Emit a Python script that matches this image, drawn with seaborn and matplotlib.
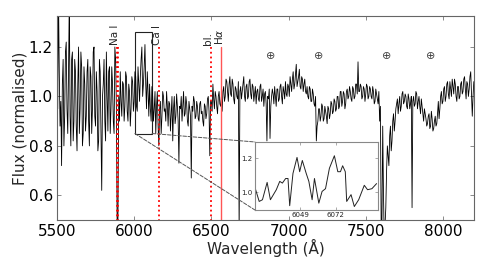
import numpy as np
import pandas as pd
import matplotlib
matplotlib.use("Agg")
import matplotlib.pyplot as plt
from matplotlib.patches import Rectangle, ConnectionPatch
import seaborn as sns

# spectrum: one set on the 10 A grid (5500..8200),
# one set half-way between (5505..8195)
wave = np.arange(5500, 8201, 10)
flux = [
    1.05, 1.40, 0.88, 0.72, 1.15, 0.92, 1.22, 0.85, 1.40, 0.80,   # 5500
    1.18, 0.90, 1.10, 0.78, 1.20, 0.95, 1.12, 0.85, 1.05, 0.92,   # 5600
    1.15, 0.80, 1.08, 0.95, 1.20, 0.88, 1.02, 0.82, 1.10, 0.62,   # 5700
    1.05, 0.90, 1.18, 0.86, 1.12, 0.95, 1.05, 0.85, 1.15, 0.45,   # 5800
    1.00, 1.10, 0.92, 1.05, 0.96, 1.08, 0.90, 1.02, 0.95, 1.06,   # 5900
    0.98, 1.08, 0.94, 1.05, 1.08, 1.20, 1.05, 1.21, 0.95, 1.02,   # 6000
    1.05, 0.90, 1.00, 0.95, 0.85, 1.02, 0.80, 0.98, 0.92, 1.00,   # 6100
    0.95, 1.02, 0.88, 0.97, 0.93, 0.82, 1.00, 0.92, 0.96, 0.73,   # 6200
    0.95, 0.90, 1.02, 0.93, 0.97, 0.88, 0.95, 0.67, 0.94, 0.98,   # 6300
    0.92, 0.96, 0.90, 0.98, 0.94, 0.88, 0.96, 0.93, 1.00, 0.76,   # 6400
    0.98, 1.05, 0.95, 1.00, 0.93, 1.02, 0.96, 0.94, 1.04, 1.00,   # 6500
    1.06, 0.98, 1.08, 1.00, 1.05, 0.97, 1.03, 0.99, 0.45, 1.04,   # 6600
    1.02, 1.08, 0.98, 1.05, 1.00, 1.07, 0.99, 1.04, 1.01, 0.97,   # 6700
    1.03, 0.98, 1.05, 1.00, 0.96, 1.02, 0.82, 0.99, 0.83, 1.00,   # 6800
    1.01, 1.04, 0.96, 1.03, 0.99, 1.05, 0.97, 1.02, 1.06, 1.00,   # 6900
    1.04, 1.08, 1.02, 1.10, 1.05, 1.13, 1.06, 1.11, 1.03, 1.07,   # 7000
    1.05, 1.02, 1.04, 0.99, 1.03, 0.98, 1.01, 0.96, 0.82, 0.90,   # 7100
    0.95, 0.92, 0.96, 0.91, 0.94, 0.89, 0.95, 0.93, 0.97, 0.94,   # 7200
    0.98, 0.95, 1.00, 0.96, 1.02, 0.98, 1.01, 0.97, 1.03, 1.00,   # 7300
    1.02, 0.98, 1.03, 1.00, 1.05, 1.14, 1.02, 1.04, 1.00, 1.03,   # 7400
    1.01, 1.04, 1.00, 1.03, 0.99, 1.02, 0.98, 1.01, 0.97, 0.90,   # 7500
    0.45, 0.88, 0.42, 0.55, 0.80, 0.72, 0.88, 0.82, 0.93, 0.90,   # 7600
    0.97, 0.93, 1.00, 0.96, 1.02, 0.98, 1.00, 0.95, 0.99, 0.97,   # 7700
    0.55, 1.00, 0.97, 1.01, 0.98, 0.96, 0.99, 0.93, 0.95, 0.91,   # 7800
    0.89, 0.93, 0.88, 0.91, 0.87, 0.92, 0.89, 0.98, 0.95, 1.02,   # 7900
    0.98, 1.04, 1.00, 1.06, 0.99, 1.03, 1.07, 1.01, 1.05, 0.98,   # 8000
    1.04, 1.00, 1.06, 1.02, 1.08, 0.99, 1.05, 1.03, 1.10, 0.92, 1.06,  # 8100
]
wave_half = np.arange(5505, 8200, 10)
flux_half = [
    0.95, 1.10, 0.98, 1.05, 0.80, 1.18, 0.95, 1.10, 0.92, 1.15,   # 5505
    0.82, 1.15, 0.88, 1.05, 0.85, 1.18, 0.80, 1.12, 0.86, 1.10,   # 5605
    0.90, 1.12, 0.85, 1.18, 0.92, 1.10, 0.78, 1.15, 0.85, 1.00,   # 5705
    1.15, 0.82, 1.00, 1.10, 0.85, 1.12, 0.90, 1.20, 0.95, 0.50,   # 5805
    0.90, 0.98, 1.06, 0.90, 1.10, 0.94, 1.05, 0.88, 1.08, 0.94,   # 5905
    1.10, 0.96, 1.12, 0.98, 1.15, 1.00, 1.12, 1.05, 1.10, 0.92,   # 6005
    0.95, 1.04, 0.90, 1.02, 0.96, 0.88, 0.95, 0.85, 1.02, 0.94,   # 6105
    0.90, 0.96, 0.98, 0.86, 1.00, 0.95, 0.89, 1.01, 0.90, 0.96,   # 6205
    1.00, 0.96, 0.92, 1.00, 0.90, 0.98, 0.92, 0.96, 1.00, 0.91,   # 6305
    0.98, 0.91, 0.97, 0.93, 0.90, 0.97, 0.91, 0.99, 0.94, 0.98,   # 6405
    0.94, 0.99, 1.02, 0.96, 1.00, 0.97, 1.00, 1.02, 0.98, 1.07,   # 6505
    1.02, 1.05, 1.01, 1.07, 0.99, 1.04, 1.00, 1.06, 1.02, 0.99,   # 6605
    1.05, 1.00, 1.04, 0.99, 1.06, 1.01, 1.05, 0.98, 1.04, 1.02,   # 6705
    0.99, 1.04, 0.98, 1.03, 1.01, 0.97, 1.00, 1.03, 0.96, 1.03,   # 6805
    0.97, 1.00, 1.03, 0.98, 1.04, 1.00, 1.04, 0.99, 1.01, 1.05,   # 6905
    1.00, 1.05, 1.07, 1.03, 1.09, 1.04, 1.08, 1.04, 1.08, 1.02,   # 7005
    1.07, 1.01, 1.00, 1.04, 0.98, 1.03, 0.97, 1.00, 0.88, 0.95,   # 7105
    0.90, 0.97, 0.90, 0.96, 0.92, 0.96, 0.91, 0.98, 0.93, 0.99,   # 7205
    0.94, 1.00, 0.95, 1.02, 0.96, 1.02, 0.95, 1.02, 0.99, 1.04,   # 7305
    0.99, 1.04, 0.99, 1.05, 1.01, 1.02, 1.05, 0.99, 1.04, 0.98,   # 7405
    1.05, 0.99, 1.04, 1.00, 1.04, 0.97, 1.03, 0.99, 1.02, 0.96,   # 7505
    0.50, 0.60, 0.48, 0.70, 0.76, 0.84, 0.78, 0.90, 0.86, 0.95,   # 7605
    0.99, 0.97, 0.94, 1.01, 0.97, 1.01, 0.96, 1.01, 0.95, 1.00,   # 7705
    0.98, 0.96, 1.02, 0.95, 1.00, 0.93, 0.96, 0.90, 0.93, 0.88,   # 7805
    0.92, 0.87, 0.94, 0.86, 0.90, 0.88, 0.93, 0.91, 1.00, 0.97,   # 7905
    1.03, 0.98, 1.05, 1.01, 1.06, 1.00, 1.04, 1.07, 1.00, 1.04,   # 8005
    0.99, 1.05, 1.01, 1.07, 1.03, 1.06, 1.00, 1.08, 1.01, 1.00,   # 8105
]

# zoomed-in piece around 6020-6100 A
inset_wave = [6020.0, 6022.8, 6024.9, 6027.9, 6030.0, 6033.8, 6036.0, 6037.7, 6039.8,
              6041.3, 6042.4, 6044.5, 6047.1, 6048.8, 6050.5, 6053.0, 6054.7, 6056.8,
              6058.3, 6061.1, 6063.2, 6065.4, 6067.9, 6071.1, 6073.3, 6075.0, 6076.4,
              6078.1, 6079.0, 6081.8, 6083.9, 6086.7, 6090.3, 6092.4, 6095.2, 6098.2]
inset_flux = [1.03, 0.945, 0.955, 1.057, 0.955, 1.014, 1.063, 1.053, 1.08,
              1.08, 0.92, 1.11, 1.204, 1.12, 1.186, 1.11, 1.063, 0.955,
              1.08, 0.935, 1.004, 1.02, 1.14, 1.214, 1.12, 1.12, 1.155,
              1.12, 0.945, 0.985, 0.915, 0.955, 1.04, 1.014, 1.02, 1.05]

# line markers
line_labels = ["Na I", "Ca I", "bl.", r"H$\alpha$"]
line_label_x = [5875, 6148, 6478, 6548]
na_waves = [5890, 5896]
ca_wave = 6162
bl_wave = 6495
ha_wave = 6563
telluric_x = [6887, 7198, 7638, 7923]

sns.set_style("ticks", {"xtick.direction": "in", "ytick.direction": "in"})
plt.rcParams["font.family"] = ["DejaVu Sans"]

fig = plt.figure(figsize=(4.91, 2.73), dpi=100)
ax = fig.add_axes([0.116, 0.194, 0.849, 0.747])

df = pd.DataFrame({"wave": np.concatenate([wave, wave_half]),
                   "flux": flux + flux_half}).sort_values("wave")
sns.lineplot(data=df, x="wave", y="flux", ax=ax, color="black", lw=0.6,
             estimator=None, sort=False)

for w in na_waves:
    ax.plot([w, w], [0.4, 1.2], color="red", ls=":", lw=1.3)
ax.plot([ca_wave, ca_wave], [0.4, 1.2], color="red", ls=":", lw=1.3)
ax.plot([bl_wave, bl_wave], [0.4, 1.2], color="red", ls=":", lw=1.3)
ax.plot([ha_wave, ha_wave], [0.4, 1.2], color="#ff5555", ls="-", lw=1.0)

for lab, lx in zip(line_labels, line_label_x):
    ax.text(lx, 1.21, lab, rotation=90, ha="center", va="bottom", fontsize=7.5)

for tx in telluric_x:
    ax.text(tx, 1.163, "\u2295", ha="center", va="center", fontsize=8, color="#444444")

ax.add_patch(Rectangle((6005, 0.85), 111, 0.41, fill=False, ec="#222222", lw=0.8))

ax.set_xlim(5500, 8200)
ax.set_ylim(0.5, 1.325)
ax.set_xticks([5500, 6000, 6500, 7000, 7500, 8000])
ax.set_yticks([0.6, 0.8, 1.0, 1.2])
ax.tick_params(top=True, right=True, length=3, width=0.6, colors="#777777",
               labelcolor="black", labelsize=11, pad=3)
for s in ax.spines.values():
    s.set_color("#666666")
    s.set_linewidth(0.8)
ax.set_xlabel("Wavelength (\u00c5)", fontsize=11, labelpad=0)
ax.set_ylabel("Flux (normalised)", fontsize=11, labelpad=1)

# inset
axin = fig.add_axes([0.519, 0.231, 0.2505, 0.249])
sns.lineplot(x=inset_wave, y=inset_flux, ax=axin, color="#222222", lw=0.7,
             estimator=None, sort=False)
axin.set_xlim(6020, 6099)
axin.set_ylim(0.895, 1.295)
axin.set_xticks([6049, 6072])
axin.set_yticks([1.0, 1.2])
axin.set_yticklabels(["1.0", "1.2"])
axin.tick_params(top=True, right=True, length=2, width=0.5, colors="#888888",
                 labelcolor="#222222", labelsize=5, pad=1.5)
for s in axin.spines.values():
    s.set_color("#888888")
    s.set_linewidth(0.8)

for xa, xb, yb in [(6005, 6020, 0.895), (6116, 6020, 1.295)]:
    con = ConnectionPatch(xyA=(xa, 0.85), coordsA=ax.transData,
                          xyB=(xb, yb), coordsB=axin.transData,
                          ls="--", color="#555555", lw=0.7)
    fig.add_artist(con)

fig.savefig("out.png", dpi=100)
